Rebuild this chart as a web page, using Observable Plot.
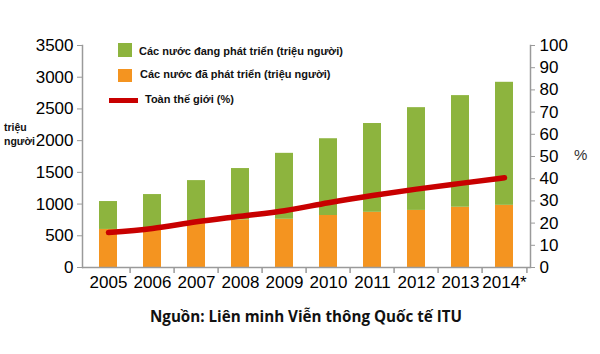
<!DOCTYPE html>
<html>
<head>
<meta charset="utf-8">
<script src="https://cdn.jsdelivr.net/npm/d3@7"></script>
<script src="https://cdn.jsdelivr.net/npm/@observablehq/plot@0.6"></script>
<style>
  body { margin: 0; background: #fff; }
  #wrap { position: relative; width: 600px; height: 354px; overflow: hidden; }
  .lg { position: absolute; font-family: "Liberation Sans", Arial, sans-serif; font-weight: 700; font-size: 11px; color: #111; white-space: nowrap; }
  .sw { position: absolute; }
  #caption { position: absolute; left: 0; width: 612px; top: 306px; text-align: center; font-family: "Open Sans", sans-serif; font-weight: 700; font-size: 15.2px; color: #111; }
</style>
</head>
<body>
<div id="wrap"></div>
<script>
const years = ["2005","2006","2007","2008","2009","2010","2011","2012","2013","2014*"];
const developing = [440, 530, 670, 810, 1040, 1210, 1400, 1620, 1760, 1940]; // green part (million)
const developed  = [600, 620, 700, 750, 760, 820, 870, 900, 950, 980];       // orange part (million)
const worldPct   = [15.8, 17.6, 20.6, 23.1, 25.6, 29.2, 32.4, 35.3, 37.9, 40.4]; // %
const leftTicks  = [0, 500, 1000, 1500, 2000, 2500, 3000, 3500];
const rightTicks = [0, 10, 20, 30, 40, 50, 60, 70, 80, 90, 100];

const GREEN = "#8db43e", ORANGE = "#f49420", RED = "#c80000", AXIS = "#9a9a9a";
const RATIO = 35; // 100% == 3500 on the left scale

const stack = [];
years.forEach((y, i) => {
  stack.push({year: y, series: "developed", value: developed[i]});
  stack.push({year: y, series: "developing", value: developing[i]});
});
const line = years.map((y, i) => ({year: y, pct: worldPct[i]}));

const plot = Plot.plot({
  width: 600, height: 300,
  marginLeft: 82, marginRight: 70, marginTop: 45, marginBottom: 33,
  style: {fontFamily: "Liberation Sans, Arial, sans-serif", fontSize: "17px", color: "#000", background: "#fff"},
  x: {domain: years, paddingInner: 0.58, paddingOuter: 0.29, label: null},
  y: {domain: [0, 3500], label: null},
  color: {domain: ["developed", "developing"], range: [ORANGE, GREEN]},
  marks: [
    Plot.barY(stack, {x: "year", y: "value", fill: "series", order: ["developed", "developing"]}),
    Plot.ruleY([0], {stroke: AXIS, strokeWidth: 1.5}),
    Plot.ruleX(years.slice(1), {x: d => d, dx: -22.4, y1: 0, y2: 0, insetBottom: -6, stroke: AXIS, strokeWidth: 1.5}),
    Plot.ruleX(years.slice(-1), {x: d => d, dx: 22.4, y1: 0, y2: 0, insetBottom: -6, stroke: AXIS, strokeWidth: 1.5}),
    Plot.frame({anchor: "left", stroke: AXIS, strokeWidth: 1.5}),
    Plot.frame({anchor: "right", stroke: AXIS, strokeWidth: 1.5}),
    Plot.axisY({anchor: "left", ticks: leftTicks, tickFormat: d => String(d), tickSize: 5, tickPadding: 4, stroke: AXIS, label: null}),
    Plot.axisY({anchor: "right", ticks: rightTicks.map(v => v * RATIO), tickFormat: d => String(Math.round(d / RATIO)), tickSize: 4, tickPadding: 5, stroke: AXIS, label: null}),
    Plot.axisX({tickSize: 0, tickPadding: 8, label: null}),
    Plot.line(line, {x: "year", y: d => d.pct * RATIO, stroke: RED, strokeWidth: 5.5, strokeLinecap: "round", strokeLinejoin: "round", curve: "monotone-x"})
  ]
});
plot.style.position = "absolute";
plot.style.left = "0px";
plot.style.top = "0px";
const wrap = document.getElementById("wrap");
wrap.appendChild(plot);

function add(html, css, cls) {
  const d = document.createElement("div");
  d.className = cls;
  d.innerHTML = html;
  Object.assign(d.style, css);
  wrap.appendChild(d);
  return d;
}
// legend
add("", {left: "118px", top: "43px", width: "14px", height: "14px", background: GREEN}, "sw");
add("Các nước đang phát triển (triệu người)", {left: "139px", top: "45px"}, "lg");
add("", {left: "118px", top: "69px", width: "14px", height: "13px", background: ORANGE}, "sw");
add("Các nước đã phát triển (triệu người)", {left: "140px", top: "68px"}, "lg");
add("", {left: "109px", top: "98px", width: "29px", height: "5px", background: RED}, "sw");
add("Toàn thế giới (%)", {left: "145px", top: "93px"}, "lg");
// axis titles
add("triệu<br>người", {left: "4px", top: "120px", lineHeight: "14px", fontSize: "10.5px"}, "lg");
add("%", {left: "574px", top: "146px", fontSize: "15px", fontWeight: "400", color: "#333"}, "lg");
// caption
const cap = document.createElement("div");
cap.id = "caption";
cap.textContent = "Nguồn: Liên minh Viễn thông Quốc tế ITU";
wrap.appendChild(cap);
</script>
</body>
</html>
